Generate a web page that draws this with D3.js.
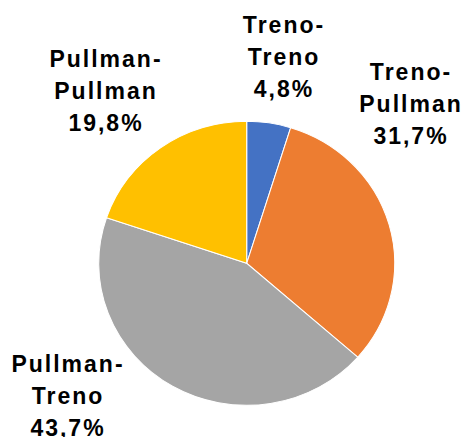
<!DOCTYPE html>
<html>
<head>
<meta charset="utf-8">
<script src="https://cdn.jsdelivr.net/npm/d3@7"></script>
<style>
  html, body { margin: 0; padding: 0; background: #fff; }
  svg { display: block; }
</style>
</head>
<body>
<svg id="chart" width="463" height="437"></svg>
<script>
const categories = ["Treno-Treno", "Treno-Pullman", "Pullman-Treno", "Pullman-Pullman"];
const values = [4.8, 31.7, 43.7, 19.8];
const colors = ["#4472C4", "#ED7D31", "#A5A5A5", "#FFC000"];
const labelLines = [["Treno-", "Treno", "4,8%"], ["Treno-", "Pullman", "31,7%"], ["Pullman-", "Treno", "43,7%"], ["Pullman-", "Pullman", "19,8%"]];
const labelPos = [[284, 33], [411, 80], [68, 372], [106, 67]];

const svg = d3.select("#chart");
const cx = 246.7, cy = 263.3, r = 142, sx = 148 / 142;

const pie = d3.pie().sort(null).value(d => d)(values);
const arc = d3.arc().innerRadius(0).outerRadius(r);

const g = svg.append("g").attr("transform", `translate(${cx},${cy}) scale(${sx},1)`);
g.selectAll("path").data(pie).join("path")
  .attr("d", arc)
  .attr("fill", (d, i) => colors[i])
  .attr("stroke", "#fff")
  .attr("stroke-width", 1);

const lineH = 32;
labelLines.forEach((lines, i) => {
  const t = svg.append("text")
    .attr("x", labelPos[i][0]).attr("y", labelPos[i][1])
    .attr("text-anchor", "middle")
    .attr("font-family", "'Liberation Sans', Arial, sans-serif")
    .attr("font-weight", "bold")
    .attr("font-size", 23)
    .attr("letter-spacing", 2)
    .attr("fill", "#000");
  lines.forEach((s, j) => {
    t.append("tspan").attr("x", labelPos[i][0]).attr("y", labelPos[i][1] + j * lineH).text(s);
  });
});
</script>
</body>
</html>
